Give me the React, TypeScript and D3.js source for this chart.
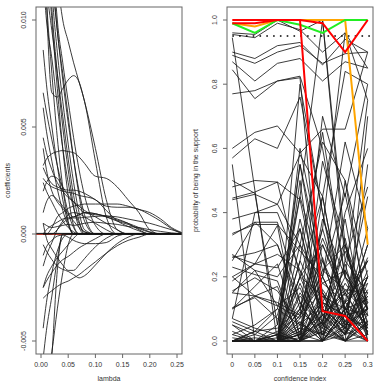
import React from "react";
import * as d3 from "d3";

// ---------- left panel: coefficient paths (values in units of 1e-3) ----------
const LAMBDA = [0.004, 0.01, 0.02, 0.03, 0.04, 0.05, 0.06, 0.07, 0.08, 0.10, 0.12, 0.14, 0.16, 0.18, 0.20, 0.22, 0.24, 0.26];
const COEF_PATHS: number[][] = [
  [14, 11, 7.5, 4.5, 2.2, 0.6, 0, 0, 0, 0, 0, 0, 0, 0, 0, 0, 0, 0],
  [17, 13.5, 10, 6.8, 4.0, 1.8, 0.4, 0, 0, 0, 0, 0, 0, 0, 0, 0, 0, 0],
  [20, 15, 10.5, 7.5, 5.0, 3.0, 1.3, 0.3, 0, 0, 0, 0, 0, 0, 0, 0, 0, 0],
  [24, 17, 11.5, 8.5, 6.2, 4.2, 2.4, 1.0, 0.2, 0, 0, 0, 0, 0, 0, 0, 0, 0],
  [28, 20, 13, 9.5, 7.5, 5.5, 3.5, 1.8, 0.6, 0, 0, 0, 0, 0, 0, 0, 0, 0],
  [13, 11.5, 9.5, 7.5, 5.5, 3.5, 1.8, 0.6, 0, 0, 0, 0, 0, 0, 0, 0, 0, 0],
  [40, 25, 15, 12, 10, 9.0, 8.0, 7.1, 6.2, 3.4, 0.8, 0, 0, 0, 0, 0, 0, 0],
  [18, 15, 12, 9.5, 7.2, 5.2, 3.5, 2, 0.9, 0, 0, 0, 0, 0, 0, 0, 0, 0],
  [30, 22, 14, 10, 8, 6.2, 4.5, 3.0, 1.8, 0.4, 0, 0, 0, 0, 0, 0, 0, 0],
  [12, 10, 8.2, 6.0, 4.0, 2.4, 1.2, 0.5, 0.1, 0, 0, 0, 0, 0, 0, 0, 0, 0],
  [16, 11, 6.6, 6.4, 6.8, 7.2, 7.4, 7.1, 6.2, 4.0, 1.6, 0.2, 0, 0, 0, 0, 0, 0],
  [8.6, 7.0, 5.0, 3.2, 1.6, 0.5, 0, 0, 0, 0, 0, 0, 0, 0, 0, 0, 0, 0],
  [6.6, 5.7, 4.4, 3.2, 2.1, 1.0, 0.3, 0, 0, 0, 0, 0, 0, 0, 0, 0, 0, 0],
  [5.9, 4.8, 3.4, 2.1, 1.1, 0.4, 0, 0, 0, 0, 0, 0, 0, 0, 0, 0, 0, 0],
  [3.2, 3.5, 3.75, 3.85, 3.9, 3.85, 3.8, 3.6, 3.3, 2.7, 2.6, 2.2, 1.6, 1.0, 0.2, 0, 0, 0],
  [3.1, 2.75, 2.35, 2.2, 2.1, 2.05, 2.05, 2.0, 1.9, 1.6, 1.3, 1.25, 1.25, 1.15, 0.9, 0.6, 0.25, 0],
  [2.0, 2.4, 2.7, 2.6, 2.2, 1.8, 1.5, 1.2, 1.0, 0.9, 0.85, 0.7, 0.5, 0.2, 0, 0, 0, 0],
  [1.0, 1.5, 1.8, 1.6, 1.3, 1.0, 0.8, 0.9, 1.0, 0.95, 0.8, 0.6, 0.45, 0.25, 0.08, 0, 0, 0],
  [0.5, 0.4, 0.3, 0.35, 0.4, 0.45, 0.4, 0.45, 0.5, 0.55, 0.5, 0.45, 0.35, 0.3, 0.2, 0.12, 0.05, 0],
  [2.4, 2.0, 1.5, 1.0, 0.6, 0.3, 0.1, 0, 0, 0, 0, 0, 0, 0, 0, 0, 0, 0],
  [0, 0, 0.3, 0.8, 1.0, 1.2, 1.3, 1.35, 1.4, 1.4, 1.4, 1.4, 1.3, 1.15, 1.0, 0.7, 0.3, 0.05],
  [0, 0, 0, 0.2, 0.5, 0.7, 0.75, 0.75, 0.78, 0.82, 0.84, 0.8, 0.7, 0.6, 0.5, 0.35, 0.2, 0.05],
  [4.5, 3.8, 3.0, 2.4, 2.0, 1.7, 1.5, 1.3, 1.1, 0.8, 0.5, 0.2, 0, 0, 0, 0, 0, 0],
  [4.0, 3.0, 2.0, 1.5, 1.2, 0.9, 0.6, 0.3, 0.1, 0, 0, 0, 0, 0, 0, 0, 0, 0],
  [2.6, 2.4, 2.2, 2.1, 2.0, 1.95, 1.9, 1.8, 1.75, 1.6, 1.1, 0.62, 0.35, 0.15, 0, 0, 0, 0],
  [0, 0.2, 0.4, 0.55, 0.7, 0.75, 0.8, 0.9, 1.0, 0.95, 0.8, 0.65, 0.5, 0.3, 0.1, 0, 0, 0],
  [-5.8, -4.5, -2.9, -1.2, 0, 0, 0, 0, 0, 0, 0, 0, 0, 0, 0, 0, 0, 0],
  [-12, -9, -5.7, -1.7, 0, 0, 0, 0, 0, 0, 0, 0, 0, 0, 0, 0, 0, 0],
  [-4.4, -3.2, -1.8, -0.8, -0.2, 0, 0, 0, 0, 0, 0, 0, 0, 0, 0, 0, 0, 0],
  [-8, -7, -5.5, -3.5, -1.8, -0.5, 0, 0, 0, 0, 0, 0, 0, 0, 0, 0, 0, 0],
  [-3.0, -2.85, -2.65, -2.45, -2.3, -2.2, -2.05, -1.9, -1.7, -1.3, -0.9, -0.55, -0.3, -0.15, 0, 0, 0, 0],
  [-0.5, -0.8, -1.2, -1.5, -1.65, -1.75, -1.9, -2.05, -1.95, -1.45, -0.9, -0.45, -0.15, 0, 0, 0, 0, 0],
  [0.5, -0.2, -0.7, -1.1, -1.45, -1.7, -1.7, -1.45, -1.15, -0.6, -0.2, 0, 0, 0, 0, 0, 0, 0],
  [-2.5, -2.0, -1.5, -1.1, -0.8, -0.5, -0.2, 0, 0, 0, 0, 0, 0, 0, 0, 0, 0, 0],
  [-1.0, -0.6, -0.3, -0.1, -0.05, -0.15, -0.3, -0.4, -0.45, -0.45, -0.4, -0.1, 0, 0, 0, 0, 0, 0],
  [-2.5, -2.2, -1.8, -1.45, -1.2, -1.05, -0.85, -0.65, -0.5, -0.22, 0, 0, 0, 0, 0, 0, 0, 0],
  [-1.5, -1.0, -0.4, 0.2, 0.6, 0.9, 1.0, 0.95, 0.8, 0.5, 0.2, 0, 0, 0, 0, 0, 0, 0],
];
const COEF_UNIT = 1e-3;
const LAMBDA_TICKS = [0, 0.05, 0.1, 0.15, 0.2, 0.25];
const COEF_TICKS = [-0.005, 0, 0.005, 0.01];

// ---------- right panel: selection probabilities ----------
const CONF_INDEX = [0, 0.05, 0.1, 0.15, 0.2, 0.25, 0.3];
const PROB_BLACK: number[][] = [
  [0.96, 0.955, 1.0, 0.965, 1.0, 0.3, 0.05],
  [0.955, 0.945, 0.99, 0.97, 0.9, 0.96, 0.85],
  [0.945, 0.47, 0.0, 0.0, 0.03, 0.0, 0.02],
  [0.90, 0.88, 0.92, 0.93, 0.86, 0.94, 0.90],
  [0.89, 0.865, 0.90, 0.92, 0.865, 0.895, 0.90],
  [0.87, 0.81, 0.865, 0.88, 0.81, 0.87, 0.85],
  [0.845, 0.755, 0.81, 0.825, 0.60, 0.20, 0.10],
  [0.77, 0.78, 0.81, 0.82, 0.05, 0.15, 0.03],
  [0.60, 0.65, 0.67, 0.585, 0.66, 0.66, 0.90],
  [0.57, 0.63, 0.60, 0.76, 0.40, 0.10, 0.0],
  [0.02, 0.05, 0.1, 0.45, 1.0, 0.25, 0.15],
  [0.0, 0.03, 0.04, 0.10, 0.35, 0.96, 0.75],
  [0.05, 0.0, 0.02, 0.2, 0.45, 0.84, 0.80],
  [0.44, 0.457, 0.426, 0.30, 0.62, 0.50, 0.20],
  [0.38, 0.40, 0.426, 0.58, 0.45, 0.08, 0.35],
  [0.335, 0.363, 0.363, 0.28, 0.20, 0.46, 0.10],
  [0.33, 0.37, 0.37, 0.12, 0.05, 0.40, 0.60],
  [0.26, 0.275, 0.30, 0.10, 0.32, 0.15, 0.25],
  [0.265, 0.24, 0.27, 0.22, 0.02, 0.12, 0.05],
  [0.23, 0.207, 0.187, 0.0, 0.15, 0.05, 0.20],
  [0.187, 0.24, 0.228, 0.35, 0.08, 0.02, 0.15],
  [0.156, 0.197, 0.156, 0.05, 0.22, 0.30, 0.02],
  [0.15, 0.14, 0.109, 0.166, 0.0, 0.10, 0.13],
  [0.104, 0.135, 0.07, 0.01, 0.12, 0.08, 0.30],
  [0.48, 0.50, 0.495, 0.44, 0.10, 0.0, 0.05],
  [0.50, 0.46, 0.05, 0.55, 0.22, 0.16, 0.08],
  [0.55, 0.0, 0.0, 0.0, 0.05, 0.0, 0.0],
  [0.445, 0.464, 0.495, 0.2, 0.04, 0.3, 0.12],
  [0.07, 0.40, 0.40, 0.22, 0.1, 0.02, 0.2],
  [0, 0, 0, 0.05, 0.12, 0.02, 0.18],
  [0, 0, 0.02, 0.0, 0.08, 0.15, 0.04],
  [0, 0, 0, 0.1, 0.02, 0.06, 0.22],
  [0, 0.01, 0, 0.0, 0.2, 0.05, 0.1],
  [0, 0, 0, 0.15, 0.05, 0.0, 0.12],
  [0, 0, 0, 0.02, 0.1, 0.22, 0.06],
  [0.02, 0, 0, 0.06, 0.0, 0.1, 0.25],
  [0, 0, 0.01, 0.2, 0.14, 0.03, 0.0],
  [0, 0, 0, 0.0, 0.04, 0.18, 0.08],
  [0, 0.02, 0, 0.08, 0.18, 0.12, 0.05],
  [0.06, 0.03, 0.0, 0.25, 0.1, 0.04, 0.16],
  [0.07, 0.04, 0.02, 0.0, 0.06, 0.2, 0.12],
  [0, 0, 0, 0.12, 0.0, 0.08, 0.3],
  [0, 0, 0, 0.04, 0.25, 0.1, 0.02],
  [0, 0, 0.03, 0.0, 0.12, 0.28, 0.1],
  [0, 0, 0, 0.3, 0.08, 0.0, 0.06],
  [0, 0, 0, 0.02, 0.3, 0.14, 0.2],
  [0.01, 0, 0, 0.18, 0.02, 0.24, 0.0],
  [0, 0, 0.0, 0.07, 0.16, 0.06, 0.14],
  [0, 0.0, 0.0, 0.0, 0.03, 0.12, 0.45],
  [0, 0, 0.05, 0.45, 0.2, 0.06, 0.0],
  [0.15, 0.22, 0.11, 0.07, 0.35, 0.1, 0.08],
  [0.2, 0.14, 0.17, 0.0, 0.0, 0.05, 0.1],
  [0.1, 0.17, 0.24, 0.02, 0.06, 0.32, 0.02],
  [0, 0, 0, 0.38, 0.1, 0.02, 0.12],
  [0, 0, 0, 0.0, 0.45, 0.08, 0.04],
  [0, 0, 0, 0.5, 0.0, 0.1, 0.26],
  [0, 0.0, 0.0, 0.06, 0.0, 0.5, 0.08],
  [0.0, 0.0, 0.0, 0.02, 0.56, 0.3, 0.02],
  [0, 0, 0, 0.1, 0.2, 0.62, 0.35],
  [0, 0, 0.0, 0.0, 0.08, 0.02, 0.55],
  [0, 0, 0, 0.55, 0.15, 0.0, 0.7],
  [0.0, 0.0, 0.0, 0.25, 0.65, 0.2, 0.75],
  [0, 0, 0, 0.8, 0.4, 0.05, 0.06],
  [0, 0, 0.0, 0.08, 0.7, 0.45, 0.8],
  [0, 0, 0, 0.03, 0.15, 0.04, 0.2],
  [0, 0, 0, 0.0, 0.0, 0.02, 0.05],
  [0, 0, 0, 0.01, 0.06, 0.0, 0.1],
  [0, 0, 0, 0.04, 0.02, 0.1, 0.03],
  [0, 0, 0, 0.0, 0.1, 0.04, 0.0],
  [0.03, 0, 0, 0.02, 0.0, 0.08, 0.1],
  [0, 0, 0.02, 0.09, 0.04, 0.0, 0.08],
  [0, 0, 0, 0.0, 0.14, 0.1, 0.0],
  [0, 0.0, 0.0, 0.03, 0.08, 0.16, 0.15],
  [0.25, 0.37, 0.3, 0.12, 0.0, 0.04, 0.2],
  [0.27, 0.22, 0.2, 0.3, 0.18, 0.22, 0.1],
  [0.1, 0.14, 0.12, 0.08, 0.26, 0.02, 0.14],
  [0.2, 0.24, 0.36, 0.0, 0.12, 0.08, 0.03],
  [0.05, 0.02, 0.08, 0.35, 0.05, 0.12, 0.18],
  [0, 0.03, 0.1, 0.05, 0.02, 0.0, 0.06],
  [0.0, 0.0, 0.0, 0.6, 0.25, 0.04, 0.1],
  [0.0, 0.0, 0.0, 0.0, 0.38, 0.2, 0.04],
  [0, 0, 0, 0.14, 0.06, 0.38, 0.0],
  [0.0, 0.0, 0.0, 0.0, 0.0, 0.25, 0.48],
  [0, 0, 0, 0.2, 0.3, 0.12, 0.25],
];
const PROB_ORANGE = [0.99, 0.98, 1.0, 1.0, 1.0, 1.0, 0.3];
const PROB_GREEN = [0.99, 0.96, 1.0, 0.985, 0.96, 1.0, 1.0];
const PROB_RED_A = [1.0, 1.0, 1.0, 1.0, 0.093, 0.078, 0.0];
const PROB_RED_B = [0.99, 0.99, 1.0, 1.0, 0.99, 0.9, 1.0];
const THRESHOLD = 0.95;
const CONF_TICKS = [0, 0.05, 0.1, 0.15, 0.2, 0.25, 0.3];
const PROB_TICKS = [0, 0.2, 0.4, 0.6, 0.8, 1.0];

const FONT = "'Liberation Sans', Arial, Helvetica, sans-serif";
const BOX = "#666";
const TXT = "#333";

export default function App() {
  const L = { x0: 36, x1: 182, y0: 7, y1: 354 };
  const R = { x0: 227, x1: 373, y0: 7, y1: 354 };

  const xL = d3.scaleLinear().domain([0, 0.25]).range([41, 177]);
  const yL = d3.scaleLinear().domain([0, 0.01]).range([234, 20]);
  const xR = d3.scaleLinear().domain([0, 0.3]).range([232.3, 367.7]);
  const yR = d3.scaleLinear().domain([0, 1]).range([341, 20]);

  const coefLine = d3
    .line<number>()
    .x((_, i) => xL(LAMBDA[i]))
    .y((v) => yL(v * COEF_UNIT))
    .curve(d3.curveMonotoneX);

  const probLine = d3
    .line<number>()
    .x((_, i) => xR(CONF_INDEX[i]))
    .y((v) => yR(v));

  const tick = 4;

  return (
    <svg width={382} height={382} style={{ position: "absolute", left: 0, top: 0, background: "#fff" }} fontFamily={FONT}>
      <defs>
        <clipPath id="clipL">
          <rect x={L.x0} y={L.y0} width={L.x1 - L.x0} height={L.y1 - L.y0} />
        </clipPath>
        <clipPath id="clipR">
          <rect x={R.x0} y={R.y0} width={R.x1 - R.x0} height={R.y1 - R.y0} />
        </clipPath>
      </defs>
      <rect x={0} y={0} width={382} height={382} fill="#fff" />

      {/* ---------- left panel ---------- */}
      <g clipPath="url(#clipL)">
        <line x1={L.x0} x2={L.x1} y1={yL(0) + 0.4} y2={yL(0) + 0.4} stroke="#b03a2e" strokeWidth={1.4} />
        {COEF_PATHS.map((p, i) => (
          <path key={i} d={coefLine(p) || ""} fill="none" stroke="#1a1a1a" strokeWidth={0.85} />
        ))}
        <line x1={L.x0} x2={L.x1} y1={yL(0) - 0.6} y2={yL(0) - 0.6} stroke="#111" strokeWidth={1} />
      </g>
      <rect x={L.x0} y={L.y0} width={L.x1 - L.x0} height={L.y1 - L.y0} fill="none" stroke={BOX} strokeWidth={1} />
      {LAMBDA_TICKS.map((t) => (
        <g key={t}>
          <line x1={xL(t)} x2={xL(t)} y1={L.y1} y2={L.y1 + tick} stroke={BOX} />
          <text x={xL(t)} y={367} fontSize={7} textAnchor="middle" fill={TXT}>
            {t.toFixed(2)}
          </text>
        </g>
      ))}
      {COEF_TICKS.map((t) => (
        <g key={t}>
          <line x1={L.x0 - tick} x2={L.x0} y1={yL(t)} y2={yL(t)} stroke={BOX} />
          <text x={26} y={yL(t)} fontSize={7} textAnchor="middle" fill={TXT} transform={`rotate(-90 26 ${yL(t)})`}>
            {t.toFixed(3)}
          </text>
        </g>
      ))}
      <text x={109} y={381} fontSize={7} textAnchor="middle" fill={TXT}>
        lambda
      </text>
      <text x={10} y={180.5} fontSize={7} textAnchor="middle" fill={TXT} transform="rotate(-90 10 180.5)">
        coefficients
      </text>

      {/* ---------- right panel ---------- */}
      <g clipPath="url(#clipR)">
        {PROB_BLACK.map((p, i) => (
          <path key={i} d={probLine(p) || ""} fill="none" stroke="#1a1a1a" strokeWidth={0.85} />
        ))}
        <line
          x1={xR(0)}
          x2={R.x1}
          y1={yR(THRESHOLD)}
          y2={yR(THRESHOLD)}
          stroke="#000"
          strokeWidth={1.6}
          strokeDasharray="1.6 5.2"
        />
        <path d={probLine(PROB_ORANGE) || ""} fill="none" stroke="#ffa500" strokeWidth={2} />
        <path d={probLine(PROB_GREEN) || ""} fill="none" stroke="#22ee22" strokeWidth={2} />
        <path d={probLine(PROB_RED_A) || ""} fill="none" stroke="#ff0000" strokeWidth={2} />
        <path d={probLine(PROB_RED_B) || ""} fill="none" stroke="#ff0000" strokeWidth={2} />
      </g>
      <rect x={R.x0} y={R.y0} width={R.x1 - R.x0} height={R.y1 - R.y0} fill="none" stroke={BOX} strokeWidth={1} />
      {CONF_TICKS.map((t) => (
        <g key={t}>
          <line x1={xR(t)} x2={xR(t)} y1={R.y1} y2={R.y1 + tick} stroke={BOX} />
          <text x={xR(t)} y={367} fontSize={7} textAnchor="middle" fill={TXT}>
            {String(t)}
          </text>
        </g>
      ))}
      {PROB_TICKS.map((t) => (
        <g key={t}>
          <line x1={R.x0 - tick} x2={R.x0} y1={yR(t)} y2={yR(t)} stroke={BOX} />
          <text x={217} y={yR(t)} fontSize={7} textAnchor="middle" fill={TXT} transform={`rotate(-90 217 ${yR(t)})`}>
            {t.toFixed(1)}
          </text>
        </g>
      ))}
      <text x={300} y={381} fontSize={7} textAnchor="middle" fill={TXT}>
        confidence index
      </text>
      <text x={198} y={180.5} fontSize={7} textAnchor="middle" fill={TXT} transform="rotate(-90 198 180.5)">
        probability of being in the support
      </text>
    </svg>
  );
}
